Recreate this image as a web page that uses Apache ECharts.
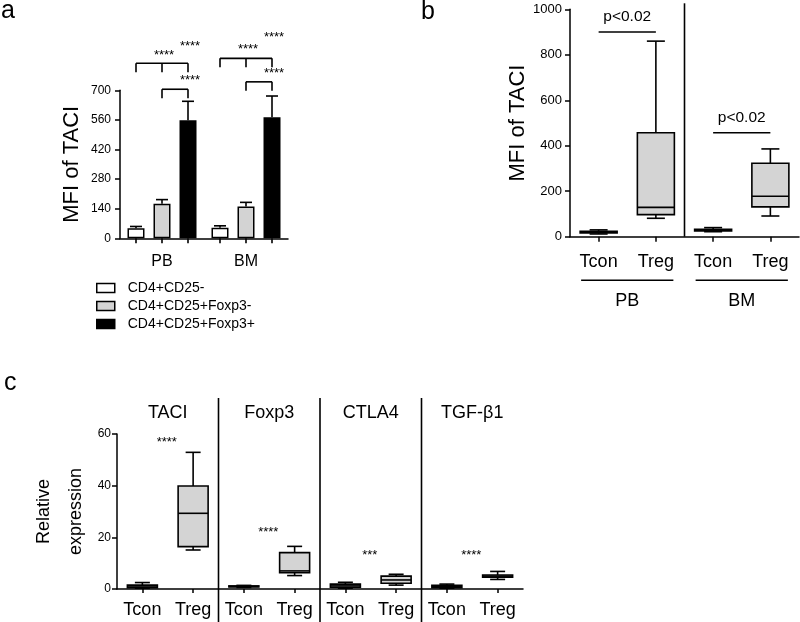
<!DOCTYPE html>
<html><head><meta charset="utf-8">
<script src="https://cdn.jsdelivr.net/npm/echarts@6/dist/echarts.min.js"></script>
<style>html,body{margin:0;padding:0;background:#fff}#chart{width:800px;height:622px}</style>
</head><body><div id="chart"></div>
<script>
// ---------- Panel a data ----------
const aGroups = ['PB', 'BM'];
const aSeriesNames = ['CD4+CD25-', 'CD4+CD25+Foxp3-', 'CD4+CD25+Foxp3+'];
const aMeans = [[47, 50], [163, 150], [558, 573]];      // [series][group]
const aErrors = [[9, 9], [20, 20], [90, 100]];
// brackets: [group, fromBar, toBar, value, middleLeg]
const aBrackets = [[0, 0, 2, 828, 1], [0, 1, 2, 705, 0], [1, 0, 2, 851, 1], [1, 1, 2, 740, 0]];
// stars: [group, bar, value]
const aStars = [[0, 1, 867], [0, 2, 906], [0, 2, 749], [1, 1, 895], [1, 2, 951], [1, 2, 780]];
const aStarLabels = ['****', '****', '****', '****', '****', '****'];

// ---------- Panel b data ----------
const bCats = ['Tcon', 'Treg', 'Tcon', 'Treg'];
// [min, q1, median, q3, max]
const bBoxes = [[12, 17, 20, 24, 30], [81, 97, 129, 457, 860], [22, 25, 29, 33, 40], [91, 131, 178, 323, 386]];
const bGroups = ['PB', 'BM'];
const bGroupSpans = [[0, 1], [2, 3]];
const bTests = [[0, 1, 900], [2, 3, 457]];
const bTestLabels = ['p<0.02', 'p<0.02'];

// ---------- Panel c data ----------
const cCats = ['Tcon', 'Treg', 'Tcon', 'Treg', 'Tcon', 'Treg', 'Tcon', 'Treg'];
const cGenes = ['TACI', 'Foxp3', 'CTLA4', 'TGF-β1'];
const cBoxes = [
  [0.3, 0.5, 0.8, 1.5, 2.5], [15.1, 16.4, 29.3, 39.9, 52.9],
  [0.6, 0.8, 1.0, 1.2, 1.4], [5.2, 6.3, 7.0, 14.1, 16.5],
  [0.3, 0.7, 1.2, 1.9, 2.6], [1.5, 2.2, 3.5, 5.0, 5.7],
  [0.3, 0.5, 1.0, 1.4, 1.9], [3.7, 4.6, 5.0, 5.4, 6.8]
];
const cStars = ['****', '****', '***', '****'];
const cStarValues = [56.6, 22, 12.9, 12.9];
const cPairs = [[0, 1], [2, 3], [4, 5], [6, 7]];
const cDividers = [[1, 2], [3, 4], [5, 6]];

// ---------- styles ----------
const FONT = '"Liberation Sans", Arial, sans-serif';
const BLACK = '#000';
const GRAY = '#d4d4d4';
const aColors = ['#ffffff', '#d3d3d3', '#000000'];
const BAR_W = 17, BAR_STEP = 26;
const LW = 1.6;
const lineStyle = { stroke: BLACK, lineWidth: LW };

function axisBase(extra) {
  return Object.assign({
    axisLine: { show: true, lineStyle: { color: BLACK, width: 1.5 } },
    axisTick: { show: true, length: 5, lineStyle: { color: BLACK, width: 1.5 } },
    splitLine: { show: false },
    axisLabel: { color: BLACK, fontFamily: FONT },
    nameTextStyle: { color: BLACK, fontFamily: FONT }
  }, extra);
}
function ln(x1, y1, x2, y2) { return { type: 'line', shape: { x1, y1, x2, y2 }, style: lineStyle }; }
function txt(x, y, text, size) {
  return { type: 'text', x, y, style: { text, fill: BLACK, font: size + 'px ' + FONT, align: 'center', verticalAlign: 'middle' } };
}
const plain = v => String(v);

function boxRender(boxW, capW) {
  return function (params, api) {
    const c = api.value(0);
    const x = api.coord([c, 0])[0];
    const pMin = api.coord([c, api.value(1)])[1];
    const pQ1 = api.coord([c, api.value(2)])[1];
    const pMed = api.coord([c, api.value(3)])[1];
    const pQ3 = api.coord([c, api.value(4)])[1];
    const pMax = api.coord([c, api.value(5)])[1];
    return {
      type: 'group', children: [
        ln(x, pMax, x, pQ3), ln(x, pQ1, x, pMin),
        ln(x - capW / 2, pMax, x + capW / 2, pMax), ln(x - capW / 2, pMin, x + capW / 2, pMin),
        { type: 'rect', shape: { x: x - boxW / 2, y: pQ3, width: boxW, height: Math.max(pQ1 - pQ3, 0.5) }, style: { fill: GRAY, stroke: BLACK, lineWidth: LW } },
        ln(x - boxW / 2, pMed, x + boxW / 2, pMed)
      ]
    };
  };
}

const series = [];
// Panel a bars
aSeriesNames.forEach((name, k) => {
  series.push({
    type: 'bar', name, xAxisIndex: 0, yAxisIndex: 0, data: aMeans[k],
    barWidth: BAR_W, barGap: '53%',
    itemStyle: { color: aColors[k], borderColor: BLACK, borderWidth: 1.5 }
  });
});
// Panel a error bars + ticks
const aErrData = [];
aMeans.forEach((arr, k) => arr.forEach((m, g) => aErrData.push([g, k, m, aErrors[k][g]])));
series.push({
  type: 'custom', xAxisIndex: 0, yAxisIndex: 0, clip: false, z: 5, data: aErrData,
  encode: { x: 0, y: 2 },
  renderItem: function (params, api) {
    const g = api.value(0), k = api.value(1), m = api.value(2), e = api.value(3);
    const x = api.coord([g, 0])[0] + (k - 1) * BAR_STEP;
    const y0 = api.coord([g, 0])[1];
    const yM = api.coord([g, m])[1];
    const yT = api.coord([g, m + e])[1];
    return {
      type: 'group', children: [
        ln(x, yM, x, yT), ln(x - 6, yT, x + 6, yT), ln(x, y0, x, y0 + 5)
      ]
    };
  }
});
// Panel a brackets
series.push({
  type: 'custom', xAxisIndex: 0, yAxisIndex: 0, clip: false, data: aBrackets,
  encode: { x: 0, y: 3 },
  renderItem: function (params, api) {
    const g = api.value(0), f = api.value(1), t = api.value(2), v = api.value(3), mid = api.value(4);
    const cx = api.coord([g, v]);
    const x1 = cx[0] + (f - 1) * BAR_STEP, x2 = cx[0] + (t - 1) * BAR_STEP, y = cx[1];
    const ch = [ln(x1, y, x2, y), ln(x1, y, x1, y + 9), ln(x2, y, x2, y + 9)];
    if (mid) { const xm = (x1 + x2) / 2; ch.push(ln(xm, y, xm, y + 9)); }
    return { type: 'group', children: ch };
  }
});
// Panel a stars
series.push({
  type: 'custom', xAxisIndex: 0, yAxisIndex: 0, clip: false, data: aStars,
  encode: { x: 0, y: 2 },
  renderItem: function (params, api) {
    const g = api.value(0), b = api.value(1), v = api.value(2);
    const p = api.coord([g, v]);
    return txt(p[0] + (b - 1) * BAR_STEP + 2, p[1], aStarLabels[params.dataIndex], 13);
  }
});

// Panel b boxes
series.push({
  type: 'custom', xAxisIndex: 1, yAxisIndex: 1, clip: false,
  data: bBoxes.map((b, i) => [i].concat(b)), encode: { x: 0, y: [1, 2, 3, 4, 5] },
  renderItem: boxRender(37, 18)
});
// Panel b tests
series.push({
  type: 'custom', xAxisIndex: 1, yAxisIndex: 1, clip: false, data: bTests,
  encode: { x: 0, y: 2 },
  renderItem: function (params, api) {
    const a = api.coord([api.value(0), api.value(2)]);
    const b = api.coord([api.value(1), api.value(2)]);
    return { type: 'group', children: [ln(a[0], a[1], b[0], b[1]), txt((a[0] + b[0]) / 2, a[1] - 15, bTestLabels[params.dataIndex], 15.5)] };
  }
});
// Panel b divider + group labels
series.push({
  type: 'custom', xAxisIndex: 1, yAxisIndex: 1, clip: false, data: bGroupSpans,
  encode: { x: 0 },
  renderItem: function (params, api) {
    const a = api.coord([api.value(0), 0]);
    const b = api.coord([api.value(1), 0]);
    const top = api.coord([0, 1000])[1];
    const ch = [ln(a[0] - 17.5, a[1] + 43.5, b[0] + 17.5, a[1] + 43.5), txt((a[0] + b[0]) / 2, a[1] + 64.5, bGroups[params.dataIndex], 18)];
    if (params.dataIndex === 0) {
      const n = api.coord([api.value(1) + 1, 0])[0];
      const xd = (b[0] + n) / 2;
      ch.push(ln(xd, top - 6, xd, a[1]));
    }
    return { type: 'group', children: ch };
  }
});

// Panel c boxes
series.push({
  type: 'custom', xAxisIndex: 2, yAxisIndex: 2, clip: false,
  data: cBoxes.map((b, i) => [i].concat(b)), encode: { x: 0, y: [1, 2, 3, 4, 5] },
  renderItem: boxRender(30, 15)
});
// Panel c stars + gene titles
series.push({
  type: 'custom', xAxisIndex: 2, yAxisIndex: 2, clip: false,
  data: cPairs.map((p, i) => [p[0], p[1], cStarValues[i]]), encode: { x: 0, y: 2 },
  renderItem: function (params, api) {
    const a = api.coord([api.value(0), api.value(2)]);
    const b = api.coord([api.value(1), api.value(2)]);
    const top = api.coord([api.value(0), 60])[1];
    const xm = (a[0] + b[0]) / 2;
    return { type: 'group', children: [txt(xm - 1, a[1], cStars[params.dataIndex], 13), txt(xm, top - 21, cGenes[params.dataIndex], 18)] };
  }
});
// Panel c dividers
series.push({
  type: 'custom', xAxisIndex: 2, yAxisIndex: 2, clip: false, data: cDividers,
  encode: { x: 0 },
  renderItem: function (params, api) {
    const a = api.coord([api.value(0), 0]);
    const b = api.coord([api.value(1), 0]);
    const top = api.coord([api.value(0), 60])[1];
    const xd = (a[0] + b[0]) / 2;
    return ln(xd, top - 36, xd, a[1] + 33);
  }
});

const option = {
  animation: false,
  backgroundColor: '#fff',
  textStyle: { fontFamily: FONT, color: BLACK },
  legend: {
    data: aSeriesNames, orient: 'vertical', left: 91, top: 276,
    icon: 'rect', itemWidth: 18, itemHeight: 9, itemGap: 4,
    itemStyle: { borderColor: BLACK, borderWidth: 1.5 },
    textStyle: { fontSize: 14, color: BLACK, fontFamily: FONT, padding: [0, 0, 0, 8] },
    selectedMode: false
  },
  grid: [
    { left: 120, top: 90.3, width: 168, height: 148 },
    { left: 570, top: 9.3, width: 229, height: 227.4 },
    { left: 117, top: 434, width: 406, height: 155 }
  ],
  xAxis: [
    axisBase({ gridIndex: 0, type: 'category', data: aGroups, axisTick: { show: false }, axisLabel: { color: BLACK, fontFamily: FONT, fontSize: 16, margin: 15 } }),
    axisBase({ gridIndex: 1, type: 'category', data: bCats, axisTick: { show: true, alignWithLabel: true, length: 5, lineStyle: { color: BLACK, width: 1.5 } }, axisLabel: { color: BLACK, fontFamily: FONT, fontSize: 18, margin: 16, interval: 0 } }),
    axisBase({ gridIndex: 2, type: 'category', data: cCats, axisTick: { show: true, alignWithLabel: true, length: 4, lineStyle: { color: BLACK, width: 1.5 } }, axisLabel: { color: BLACK, fontFamily: FONT, fontSize: 18, margin: 12, interval: 0 } })
  ],
  yAxis: [
    axisBase({ gridIndex: 0, type: 'value', min: 0, max: 700, interval: 140, axisLabel: { color: BLACK, fontFamily: FONT, fontSize: 12, margin: 9, formatter: plain },
      name: 'MFI of TACI', nameLocation: 'middle', nameRotate: 90, nameGap: 37, nameTextStyle: { color: BLACK, fontFamily: FONT, fontSize: 22 } }),
    axisBase({ gridIndex: 1, type: 'value', min: 0, max: 1000, interval: 200, axisLabel: { color: BLACK, fontFamily: FONT, fontSize: 13, margin: 8, formatter: plain },
      name: 'MFI of TACI', nameLocation: 'middle', nameRotate: 90, nameGap: 37, nameTextStyle: { color: BLACK, fontFamily: FONT, fontSize: 22 } }),
    axisBase({ gridIndex: 2, type: 'value', min: 0, max: 60, interval: 20, axisLabel: { color: BLACK, fontFamily: FONT, fontSize: 12, margin: 6, formatter: plain },
      name: 'Relative\nexpression', nameLocation: 'middle', nameRotate: 90, nameGap: 25, nameMoveOverlap: false, nameTextStyle: { color: BLACK, fontFamily: FONT, fontSize: 18, lineHeight: 32 } })
  ],
  graphic: [
    { type: 'text', x: 1, y: 11.5, style: { text: 'a', font: '25px ' + FONT, fill: BLACK, verticalAlign: 'middle' } },
    { type: 'text', x: 421, y: 12, style: { text: 'b', font: '25px ' + FONT, fill: BLACK, verticalAlign: 'middle' } },
    { type: 'text', x: 4, y: 383, style: { text: 'c', font: '25px ' + FONT, fill: BLACK, verticalAlign: 'middle' } }
  ],
  series
};
const chart = echarts.init(document.getElementById('chart'), null, { renderer: 'canvas' });
chart.setOption(option);
</script></body></html>
